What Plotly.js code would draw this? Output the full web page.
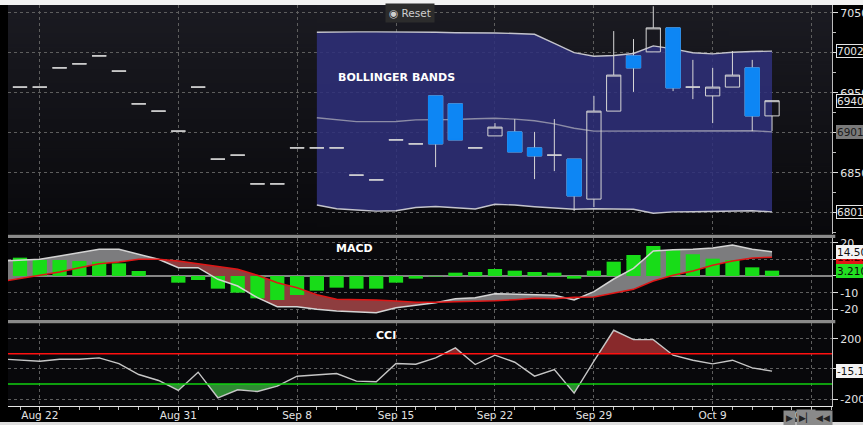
<!DOCTYPE html>
<html><head><meta charset="utf-8">
<script src="https://cdn.plot.ly/plotly-3.0.1.min.js"></script>
<style>html,body{margin:0;padding:0;background:#000;}#chart{width:863px;height:425px;}</style>
</head><body><div id="chart"></div>
<script>
// ---- data ----
const sessions = [0,1,2,3,4,5,6,7,8,9,10,11,12,13,14,15,16,17,18,19,20,21,22,23,24,25,26,27,28,29,30,31,32,33,34,35,36,37,38,39];
const tickDays = [2, 9, 15, 20, 25, 30, 36, 41];
const tickLabels = ['Aug 22','Aug 31','Sep 8','Sep 15','Sep 22','Sep 29','Oct 9','Oct 16'];

// price candles, sessions 1..39
const candleDays = [1,2,3,4,5,6,7,8,9,10,11,12,13,14,15,16,17,18,19,20,21,22,23,24,25,26,27,28,29,30,31,32,33,34,35,36,37,38,39];
const open  = [6957,6957,6981,6986,6996,6977,6936,6927,6902,6957,6867,6872,6836,6836,6881,6881,6881,6847,6841,6891,6886,6946,6936,6881,6896,6901,6881,6872,6867,6817,6927,6996,7001,7031,6957,6946,6957,6981,6921];
const high  = [6957,6957,6981,6986,6996,6977,6936,6927,6902,6957,6867,6872,6836,6836,6881,6881,6881,6847,6841,6891,6886,6946,6936,6881,6912,6917,6901,6917,6867,6946,7027,7017,7058,7031,6991,6981,7002,6991,6940];
const low   = [6957,6957,6981,6986,6996,6977,6936,6927,6902,6957,6867,6872,6836,6836,6881,6881,6881,6847,6841,6891,6886,6857,6891,6881,6896,6876,6842,6852,6802,6807,6927,6951,7001,6952,6942,6912,6957,6902,6902];
const close = [6957,6957,6981,6986,6996,6977,6936,6927,6902,6957,6867,6872,6836,6836,6881,6881,6881,6847,6841,6891,6886,6886,6891,6881,6907,6876,6871,6872,6821,6927,6972,6981,7031,6956,6957,6957,6972,6921,6940];

// Bollinger bands, sessions 16..39
const bbDays   = [16,17,18,19,20,21,22,23,24,25,26,27,28,29,30,31,32,33,34,35,36,37,38,39];
const bbUpper  = [7025.5,7026,7026,7026,7026,7026,7025.5,7025,7025,7024.6,7024,7023,7011.7,7000,6995.5,6996.5,6999,7008.5,7004.7,7000,6998.5,7000.5,7001.4,7002];
const bbMiddle = [6918.7,6916.5,6913.8,6913.8,6914,6916,6916,6916.5,6917.5,6918,6917,6915,6911,6905.5,6902,6902,6902,6902,6902.5,6902.5,6902,6902,6902.5,6901];
const bbLower  = [6809.6,6805,6803.4,6802,6802.5,6806.5,6807.8,6806.5,6804.6,6810.5,6809.6,6807.5,6806,6804.3,6805,6805,6804.3,6799.3,6801,6801.3,6802,6802,6802.5,6801];

// MACD, sessions 0..39
const macdLine   = [9.0,9.4,10,12,14,16,16,13,10,5,5,-2,-6,-13,-18.4,-18.4,-20,-21,-21.6,-22,-19,-17.4,-16,-13.6,-13,-10.6,-11,-11,-11.6,-14.4,-9.4,-1.8,4.6,15,15.8,16,16.8,18.6,16,14.5];
const signalLine = [-3.5,-1.6,0.4,2.4,5,7.4,8.4,10,10,9,7.4,5.6,4,0.4,-4,-7,-11.2,-14,-14,-14.4,-15,-15.8,-15.8,-15.6,-15.4,-14.8,-14.2,-13.4,-13.6,-12.8,-12.6,-10.4,-8,-3,0.4,3,6.4,9,10.8,11.29];
const macdHist   = [12.5,11,9.6,9.6,9,8.6,7.6,3,0,-4,-2.4,-7.6,-10,-13.4,-14.4,-11.4,-8.8,-7,-7.6,-7.6,-4,-1.6,-0.3,2,2.4,4.2,3.2,2.4,2,-1.6,3.2,8.6,12.6,18,15.4,13,10.4,9.6,5.2,3.21];

// CCI, sessions 0..39
const cci = [66,59.6,50.8,64,64,72.8,35.3,-37.5,-77,-143.5,-22,-192,-139,-150,-115,-48.6,-37.5,-31,-81.7,-86,35.3,31,73,139,28.7,90.5,44,-48.6,-4.4,-161,50.8,256,194,194,90.5,57.4,33,57.4,6.6,-15.1];
const cciUpperLevel = 100, cciLowerLevel = -100;

// ---- helpers ----
function crossFill(xs, a, b) {
  const X = [], A = [], B = [];
  for (let i = 0; i < xs.length; i++) {
    X.push(xs[i]); A.push(a[i]); B.push(b[i]);
    if (i < xs.length - 1) {
      const d0 = a[i] - b[i], d1 = a[i + 1] - b[i + 1];
      if (d0 * d1 < 0) {
        const t = d0 / (d0 - d1);
        const xc = xs[i] + t * (xs[i + 1] - xs[i]);
        const yc = b[i] + t * (b[i + 1] - b[i]);
        X.push(xc); A.push(yc); B.push(yc);
      }
    }
  }
  return { X, ref: B, hi: A.map((v, i) => Math.max(v, B[i])), lo: A.map((v, i) => Math.min(v, B[i])) };
}
function gradient(c0, c1) {
  const cv = document.createElement('canvas'); cv.width = 4; cv.height = 256;
  const g = cv.getContext('2d'); const lg = g.createLinearGradient(0, 0, 0, 256);
  lg.addColorStop(0, c0); lg.addColorStop(1, c1); g.fillStyle = lg; g.fillRect(0, 0, 4, 256);
  return cv.toDataURL();
}
const none = { width: 0 };

// ---- traces ----
const traces = [];
// Bollinger bands (main price axis)
traces.push({ type: 'scatter', mode: 'lines', x: bbDays, y: bbLower, xaxis: 'x', yaxis: 'y', line: { color: '#c4c4cc', width: 1.4 } });
traces.push({ type: 'scatter', mode: 'lines', x: bbDays, y: bbUpper, xaxis: 'x', yaxis: 'y', fill: 'tonexty', fillcolor: 'rgba(46,48,122,0.86)', line: { color: '#c4c4cc', width: 1.4 } });
traces.push({ type: 'scatter', mode: 'lines', x: bbDays, y: bbMiddle, xaxis: 'x', yaxis: 'y', line: { color: '#8c8ca6', width: 1.4 } });

// candles (overlay axis so they sit above the band fill)
traces.push({ type: 'candlestick', x: candleDays, open, high, low, close, xaxis: 'x', yaxis: 'y4',
  increasing: { line: { color: '#d6d6d6', width: 1 }, fillcolor: 'rgba(0,0,0,0)' },
  decreasing: { line: { color: '#d6d6d6', width: 1 }, fillcolor: '#0d86f4' }, whiskerwidth: 0 });
const dnIdx = candleDays.map((d, i) => i).filter(i => close[i] < open[i]);
traces.push({ type: 'candlestick', x: dnIdx.map(i => candleDays[i]), open: dnIdx.map(i => open[i]), close: dnIdx.map(i => close[i]),
  high: dnIdx.map(i => open[i]), low: dnIdx.map(i => close[i]), xaxis: 'x', yaxis: 'y4',
  increasing: { line: { color: '#0d86f4', width: 1 }, fillcolor: '#0d86f4' },
  decreasing: { line: { color: '#0d86f4', width: 1 }, fillcolor: '#0d86f4' }, whiskerwidth: 0 });

// MACD fills
const mf = crossFill(sessions, macdLine, signalLine);
traces.push({ type: 'scatter', mode: 'lines', x: mf.X, y: mf.ref, xaxis: 'x', yaxis: 'y2', line: none });
traces.push({ type: 'scatter', mode: 'lines', x: mf.X, y: mf.hi, xaxis: 'x', yaxis: 'y2', line: none, fill: 'tonexty', fillcolor: '#7c7c7e' });
traces.push({ type: 'scatter', mode: 'lines', x: mf.X, y: mf.ref, xaxis: 'x', yaxis: 'y2', line: none });
traces.push({ type: 'scatter', mode: 'lines', x: mf.X, y: mf.lo, xaxis: 'x', yaxis: 'y2', line: none, fill: 'tonexty', fillcolor: '#8e3d3f' });
// MACD histogram + lines (overlay axis)
traces.push({ type: 'bar', x: sessions, y: macdHist, xaxis: 'x', yaxis: 'y5', width: 0.72, marker: { color: '#18dc18', line: { width: 0 } } });
traces.push({ type: 'scatter', mode: 'lines', x: sessions, y: macdLine, xaxis: 'x', yaxis: 'y5', line: { color: '#d4d4d4', width: 1.5 } });
traces.push({ type: 'scatter', mode: 'lines', x: sessions, y: signalLine, xaxis: 'x', yaxis: 'y5', line: { color: '#e01616', width: 1.5 } });

// CCI fills
const cu = crossFill(sessions, cci, sessions.map(() => cciUpperLevel));
const cl = crossFill(sessions, cci, sessions.map(() => cciLowerLevel));
traces.push({ type: 'scatter', mode: 'lines', x: cu.X, y: cu.ref, xaxis: 'x', yaxis: 'y3', line: none });
traces.push({ type: 'scatter', mode: 'lines', x: cu.X, y: cu.hi, xaxis: 'x', yaxis: 'y3', line: none, fill: 'tonexty', fillcolor: '#88292b' });
traces.push({ type: 'scatter', mode: 'lines', x: cl.X, y: cl.ref, xaxis: 'x', yaxis: 'y3', line: none });
traces.push({ type: 'scatter', mode: 'lines', x: cl.X, y: cl.lo, xaxis: 'x', yaxis: 'y3', line: none, fill: 'tonexty', fillcolor: '#2f8a33' });
traces.push({ type: 'scatter', mode: 'lines', x: sessions, y: cci, xaxis: 'x', yaxis: 'y3', line: { color: '#c6c6c6', width: 1.4 } });

// ---- layout ----
const font = 'DejaVu Sans, Verdana, sans-serif';
const grid = { showgrid: true, gridcolor: '#5e5e5e', griddash: 'dot', gridwidth: 1 };
const yCommon = Object.assign({ side: 'right', anchor: 'x', showline: true, linecolor: '#bdbdbd', linewidth: 1,
  ticks: 'outside', ticklen: 5, tickcolor: '#dcdcdc', tickfont: { family: font, size: 11, color: '#e4e4e4' },
  zeroline: false, fixedrange: true, tickmode: 'array' }, grid);
const priceRange = [6773.4, 7059.6], macdRange = [-26.4, 22.5], cciRange = [-246.4, 300.8];

const layout = {
  width: 863, height: 425, margin: { l: 8, r: 31, t: 5, b: 19 },
  paper_bgcolor: '#000', plot_bgcolor: 'rgba(0,0,0,0)', showlegend: false, hovermode: false, dragmode: false,
  barmode: 'overlay', boxmode: 'overlay', boxgap: 0.1, boxgroupgap: 0.2,
  xaxis: Object.assign({ domain: [0, 1], range: [0.3936, 42.03], anchor: 'y3', tickmode: 'array', tickvals: tickDays, ticktext: tickLabels,
    ticks: 'outside', ticklen: 4, tickcolor: '#cfcfcf', showline: true, linecolor: '#e6e6e6', linewidth: 1.2, ticklabelstandoff: -5,
    tickfont: { family: font, size: 10.5, color: '#e4e4e4' }, zeroline: false, fixedrange: true, rangeslider: { visible: false },
    minor: { tickmode: 'linear', tick0: 0, dtick: 1, ticks: 'outside', ticklen: 3, tickcolor: '#bdbdbd', showgrid: false } }, grid),
  yaxis: Object.assign({}, yCommon, { domain: [0.42893, 1], range: priceRange,
    tickvals: [6800, 6850, 6900, 6950, 7000, 7050], ticktext: ['', '6850', '', '6950', '', '7050'],
    minor: { tickmode: 'linear', tick0: 6800, dtick: 25, ticks: 'outside', ticklen: 3, tickcolor: '#bdbdbd', showgrid: false } }),
  yaxis2: Object.assign({}, yCommon, { domain: [0.21446, 0.41771], range: macdRange,
    tickvals: [-20, -10, 0, 10, 20], ticktext: ['-20', '-10', '', '10', '20'], zeroline: true, zerolinecolor: '#858585', zerolinewidth: 1.5 }),
  yaxis3: Object.assign({}, yCommon, { domain: [0, 0.20574], range: cciRange,
    tickvals: [-200, 0, 200], ticktext: ['-200', '', '200'] }),
  yaxis4: { overlaying: 'y', range: priceRange, visible: false, fixedrange: true },
  yaxis5: { overlaying: 'y2', range: macdRange, visible: false, fixedrange: true },
  images: [{ source: gradient('#1b1b22', '#09090c'), xref: 'paper', yref: 'paper', x: 0, y: 1, sizex: 1, sizey: 1 - 0.42893,
    xanchor: 'left', yanchor: 'top', sizing: 'stretch', layer: 'below' }],
  shapes: [
    { type: 'rect', xref: 'paper', yref: 'paper', x0: 0, x1: 1, y0: 0.21446, y1: 0.41771, fillcolor: '#08080b', line: { width: 0 }, layer: 'below' },
    { type: 'rect', xref: 'paper', yref: 'paper', x0: 0, x1: 1, y0: 0, y1: 0.20574, fillcolor: '#08080b', line: { width: 0 }, layer: 'below' },
    { type: 'rect', xref: 'paper', yref: 'paper', x0: 0, x1: 1.004, y0: 0.41895, y1: 0.42693, fillcolor: '#8a8a8a', line: { width: 0 } },
    { type: 'rect', xref: 'paper', yref: 'paper', x0: 0, x1: 1.004, y0: 0.20623, y1: 0.21446, fillcolor: '#8a8a8a', line: { width: 0 } },
    { type: 'rect', xref: 'paper', yref: 'paper', x0: -0.01, x1: 1.04, y0: 1, y1: 1.0125, fillcolor: '#f2f2f2', line: { width: 0 } },
    { type: 'rect', xref: 'paper', yref: 'paper', x0: -0.01, x1: 1.04, y0: -0.0474, y1: -0.0399, fillcolor: '#dedede', line: { width: 0 } },
    { type: 'line', xref: 'paper', yref: 'y3', x0: 0, x1: 1, y0: cciUpperLevel, y1: cciUpperLevel, line: { color: '#ff1010', width: 1.5 } },
    { type: 'line', xref: 'paper', yref: 'y3', x0: 0, x1: 1, y0: cciLowerLevel, y1: cciLowerLevel, line: { color: '#10d010', width: 1.5 } }
  ],
  annotations: []
};

const A = layout.annotations;
A.push({ xref: 'paper', yref: 'paper', x: 0.398, y: 0.8204, xanchor: 'left', yanchor: 'middle', showarrow: false,
  text: '<b>BOLLINGER BANDS</b>', font: { family: font, size: 11, color: '#ffffff' } });
A.push({ xref: 'paper', yref: 'paper', x: (354.5 - 8) / 824, y: (406 - 248) / 401, xanchor: 'center', yanchor: 'middle', showarrow: false,
  text: '<b>MACD</b>', font: { family: font, size: 11, color: '#ffffff' } });
A.push({ xref: 'paper', yref: 'paper', x: (386 - 8) / 824, y: (406 - 335) / 401, xanchor: 'center', yanchor: 'middle', showarrow: false,
  text: '<b>CCI</b>', font: { family: font, size: 11, color: '#ffffff' } });
A.push({ xref: 'paper', yref: 'paper', x: (410 - 8) / 824, y: (406 - 13) / 401, xanchor: 'center', yanchor: 'middle', showarrow: false,
  text: '<b>◉</b> Reset', bgcolor: '#2c2c2c', borderpad: 3, font: { family: font, size: 10.5, color: '#cfcfcf' } });

function tag(yref, y, text, bg, fg, border) {
  A.push({ xref: 'paper', x: 1, xanchor: 'left', xshift: 4, yref, y, yanchor: 'middle', showarrow: false, text,
    bgcolor: bg, bordercolor: border, borderwidth: 1, borderpad: 0, font: { family: font, size: 10.5, color: fg } });
}
tag('y', bbUpper[bbUpper.length - 1], '7002', '#000', '#e6e6e6', '#e6e6e6');
tag('y', close[close.length - 1], '6940', '#000', '#e6e6e6', '#e6e6e6');
tag('y', bbMiddle[bbMiddle.length - 1], '6901', '#7a7a7a', '#1a1a1a', '#7a7a7a');
tag('y', bbLower[bbLower.length - 1], '6801', '#000', '#e6e6e6', '#e6e6e6');
tag('y2', signalLine[signalLine.length - 1], '11.29', '#e01616', '#400000', '#e01616');
tag('y2', macdLine[macdLine.length - 1], '14.50', '#f4f4f4', '#111', '#f4f4f4');
tag('y2', macdHist[macdHist.length - 1], '3.210', '#22e022', '#0a0a0a', '#22e022');
tag('y3', cci[cci.length - 1], '-15.1', '#f4f4f4', '#111', '#f4f4f4');

// navigation buttons (bottom right)
[['▶', 789], ['▶▏', 806], ['◀◀', 823]].forEach(([t, px]) => {
  A.push({ xref: 'paper', yref: 'paper', x: (px - 8) / 824, y: (406 - 418.5) / 401, xanchor: 'center', yanchor: 'middle', showarrow: false,
    text: t, bgcolor: '#8a8a8a', borderpad: 2, font: { family: font, size: 9, color: '#222' } });
});

Plotly.newPlot('chart', traces, layout, { staticPlot: true, displayModeBar: false });
</script></body></html>
